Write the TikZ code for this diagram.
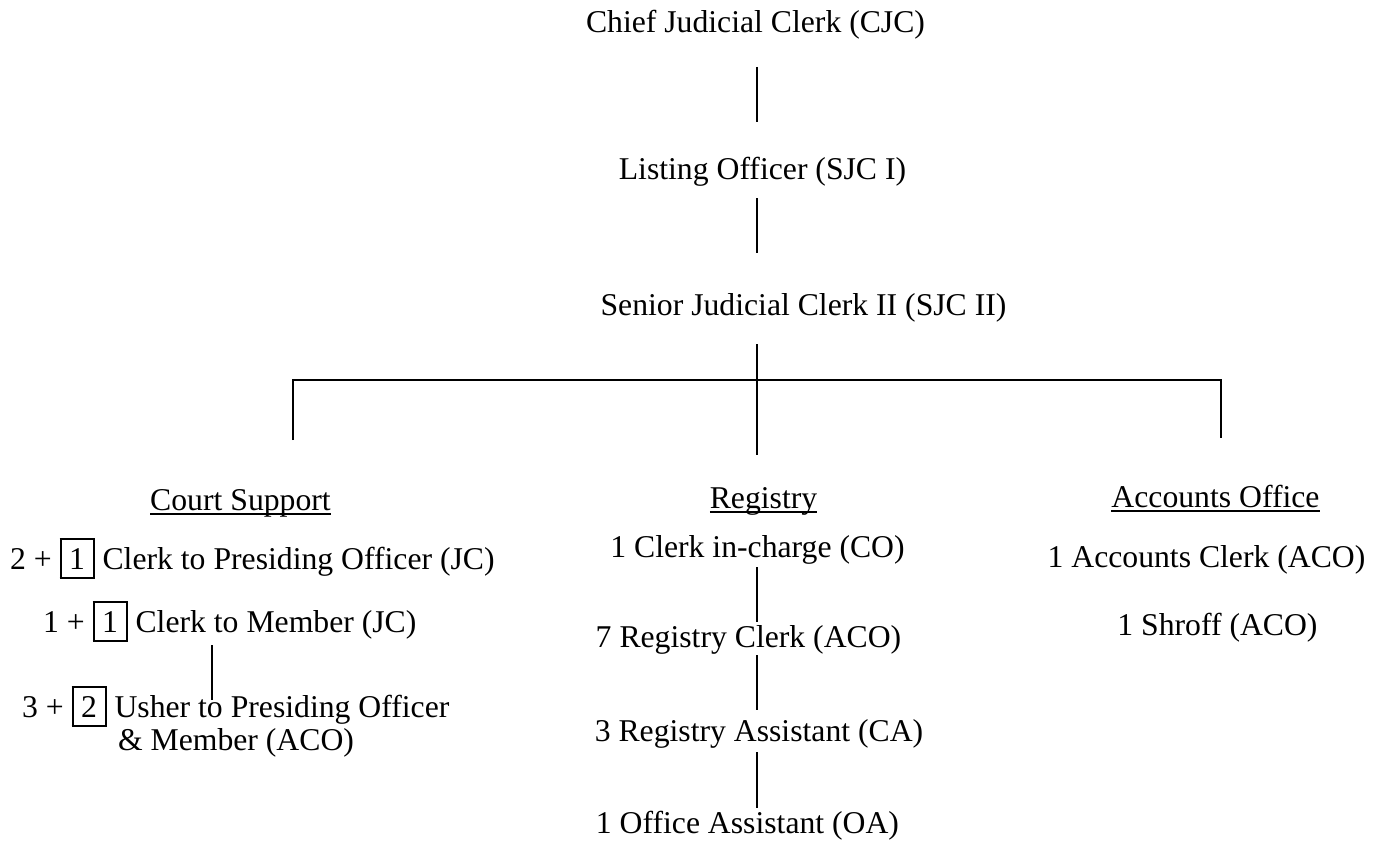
\documentclass[tikz,border=0pt]{standalone}
\usepackage{fontspec}
\setmainfont{Liberation Serif}
\usetikzlibrary{calc}
\setlength{\fboxsep}{7.6pt}
\setlength{\fboxrule}{2pt}
\begin{document}
\begin{tikzpicture}[x=1pt,y=-1pt,
  lbl/.style={inner sep=0pt,outer sep=0pt,font=\fontsize{31.7}{38}\selectfont,anchor=base},
  lblw/.style={lbl,anchor=base west},
  conn/.style={line width=1.5pt},
  uline/.style={line width=1.8pt}]
\useasboundingbox (0,0) rectangle (1384,843);
% top chain
\node[lbl] (cjc) at (755.5,33) {Chief Judicial Clerk (CJC)};
\node[lbl] (lo) at (762.5,179) {Listing Officer (SJC I)};
\node[lbl] (sjc) at (803.5,315) {Senior Judicial Clerk II (SJC II)};
\coordinate (spine) at (757,0);
\coordinate (hl) at (293,380);
\coordinate (hr) at (1221,380);
% headings
\node[lbl] (cs) at (240.5,510) {Court Support};
\node[lbl] (reg) at (763.5,508) {Registry};
\node[lbl] (acc) at (1215.5,507) {Accounts Office};
% court support
\node[lblw] (cpo) at (10,569) {2 + \fbox{1} Clerk to Presiding Officer (JC)};
\node[lblw] (cm) at (43,632) {1 + \fbox{1} Clerk to Member (JC)};
\node[lblw] (us) at (22,717) {3 + \fbox{2} Usher to Presiding Officer};
\node[lblw] (usb) at (118,750) {\& Member (ACO)};
\coordinate (cline) at (212,0);
% registry
\node[lbl] (ci) at (757.5,557) {1 Clerk in-charge (CO)};
\node[lbl] (rc) at (748.5,647) {7 Registry Clerk (ACO)};
\node[lbl] (ra) at (759,741) {3 Registry Assistant (CA)};
\node[lbl] (oa) at (747.5,833) {1 Office Assistant (OA)};
% accounts
\node[lbl] (ac) at (1206.5,567) {1 Accounts Clerk (ACO)};
\node[lbl] (sh) at (1217.5,635) {1 Shroff (ACO)};
% connectors
\draw[conn] ($(cjc.base -| spine)+(0,34)$) -- ($(lo.base -| spine)+(0,-57)$);
\draw[conn] ($(lo.base -| spine)+(0,19)$) -- ($(sjc.base -| spine)+(0,-62)$);
\draw[conn] ($(sjc.base -| spine)+(0,29)$) -- ($(reg.base -| spine)+(0,-53)$);
\draw[conn] ($(cs.base -| hl)+(0,-70)$) -- (hl) -- (hr) -- ($(acc.base -| hr)+(0,-69)$);
\draw[conn] ($(ci.base -| spine)+(0,10)$) -- ($(rc.base -| spine)+(0,-25)$);
\draw[conn] ($(rc.base -| spine)+(0,8)$) -- ($(ra.base -| spine)+(0,-31)$);
\draw[conn] ($(ra.base -| spine)+(0,11)$) -- ($(oa.base -| spine)+(0,-25)$);
\draw[conn] ($(cm.base -| cline)+(0,13)$) -- ($(us.base -| cline)+(0,-17)$);
% underlines
\draw[uline] ($(cs.base west)+(0,4)$) -- ($(cs.base east)+(0,4)$);
\draw[uline] ($(reg.base west)+(0,4)$) -- ($(reg.base east)+(0,4)$);
\draw[uline] ($(acc.base west)+(0,4)$) -- ($(acc.base east)+(0,4)$);
\end{tikzpicture}
\end{document}
